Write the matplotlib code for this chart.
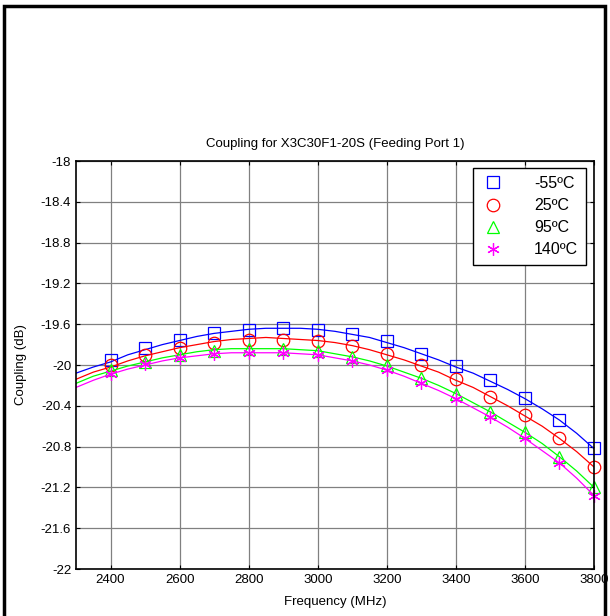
import matplotlib
matplotlib.use("Agg")
import matplotlib.pyplot as plt
import matplotlib.patches as mpatches
import numpy as np

plt.rcParams['font.family'] = ['Liberation Sans', 'DejaVu Sans']

# marker points (MHz / dB)
freq_pts = [2400, 2500, 2600, 2700, 2800, 2900, 3000, 3100, 3200, 3300, 3400, 3500, 3600, 3700, 3800]
m55_pts = [-19.95, -19.83, -19.75, -19.69, -19.66, -19.64, -19.66, -19.70, -19.76, -19.89, -20.01, -20.15, -20.32, -20.54, -20.81]
p25_pts = [-20.00, -19.90, -19.83, -19.78, -19.75, -19.75, -19.76, -19.81, -19.89, -20.00, -20.14, -20.31, -20.49, -20.72, -21.00]
p95_pts = [-20.05, -19.97, -19.90, -19.86, -19.84, -19.84, -19.86, -19.92, -20.00, -20.13, -20.28, -20.46, -20.66, -20.90, -21.20]
p140_pts = [-20.09, -19.99, -19.93, -19.89, -19.88, -19.88, -19.90, -19.96, -20.05, -20.18, -20.33, -20.51, -20.72, -20.96, -21.28]

# measured traces (MHz / dB)
freq_line = [2300, 2350, 2400, 2450, 2500, 2550, 2600, 2650, 2700, 2750, 2800, 2850, 2900, 2950, 3000,
             3050, 3100, 3150, 3200, 3250, 3300, 3350, 3400, 3450, 3500, 3550, 3600, 3650, 3700, 3750, 3800]
m55_line = [-20.08, -20.02, -19.97, -19.90, -19.85, -19.80, -19.76, -19.72, -19.69, -19.67, -19.65, -19.64, -19.64,
            -19.64, -19.65, -19.67, -19.70, -19.73, -19.78, -19.83, -19.89, -19.95, -20.02, -20.08, -20.16, -20.24,
            -20.33, -20.43, -20.54, -20.67, -20.82]
p25_line = [-20.14, -20.07, -20.02, -19.96, -19.91, -19.87, -19.83, -19.80, -19.77, -19.75, -19.74, -19.73, -19.74,
            -19.75, -19.76, -19.78, -19.81, -19.85, -19.90, -19.95, -20.01, -20.07, -20.15, -20.22, -20.31, -20.40,
            -20.50, -20.60, -20.72, -20.85, -21.00]
p95_line = [-20.18, -20.11, -20.06, -20.01, -19.97, -19.93, -19.90, -19.87, -19.85, -19.84, -19.84, -19.84, -19.84,
            -19.85, -19.86, -19.89, -19.92, -19.96, -20.01, -20.07, -20.13, -20.20, -20.28, -20.37, -20.46, -20.56,
            -20.66, -20.77, -20.90, -21.04, -21.20]
p140_line = [-20.22, -20.15, -20.09, -20.04, -20.00, -19.96, -19.93, -19.91, -19.89, -19.88, -19.88, -19.88, -19.88,
             -19.89, -19.90, -19.93, -19.96, -20.00, -20.05, -20.11, -20.18, -20.25, -20.33, -20.42, -20.51, -20.61,
             -20.72, -20.84, -20.96, -21.11, -21.28]

labels = ['-55ºC', '25ºC', '95ºC', '140ºC']
colors = ['#0000ff', '#ff0000', '#00ff00', '#ff00ff']
markers = ['s', 'o', '^', (6, 2, 0)]

fig = plt.figure(figsize=(6.1, 6.16), dpi=100)
ax = fig.add_axes([76 / 610, 1 - 569 / 616, 518 / 610, 408 / 616])

# outer frame like the source figure
fig.patches.append(mpatches.Rectangle((4 / 610, -0.05), 601 / 610, 1.05 - 6 / 616, transform=fig.transFigure,
                                      fill=False, edgecolor='black', linewidth=2.5))

lines_y = [m55_line, p25_line, p95_line, p140_line]
pts_y = [m55_pts, p25_pts, p95_pts, p140_pts]
handles = []
for i in range(4):
    ax.plot(freq_line, lines_y[i], color=colors[i], linewidth=0.9)
    h, = ax.plot(freq_pts, pts_y[i], linestyle='none', marker=markers[i], markersize=9,
                 markerfacecolor='none', markeredgecolor=colors[i], markeredgewidth=0.9,
                 label=labels[i], clip_on=False)
    handles.append(h)

ax.set_xlim(2300, 3800)
ax.set_ylim(-22, -18)
ax.set_xticks(np.arange(2400, 3801, 200))
ax.set_yticks(np.arange(-22, -17.9, 0.4))
ax.set_yticklabels(['-22', '-21.6', '-21.2', '-20.8', '-20.4', '-20', '-19.6', '-19.2', '-18.8', '-18.4', '-18'])
ax.grid(True, color='#808080', linewidth=0.9)
ax.tick_params(direction='in', top=True, right=True, length=3, labelsize=9.5, colors='black')
for s in ax.spines.values():
    s.set_linewidth(1.2)

ax.set_title('Coupling for X3C30F1-20S (Feeding Port 1)', fontsize=9.5, pad=10)
ax.set_xlabel('Frequency (MHz)', fontsize=9.5, labelpad=7)
ax.set_ylabel('Coupling (dB)', fontsize=9.5, labelpad=10)

leg = ax.legend(handles=handles, loc='upper right', bbox_to_anchor=(0.985, 0.983), fontsize=11.5,
                fancybox=False, framealpha=1, edgecolor='black', borderpad=0.5, labelspacing=0.45,
                handlelength=1.5, handletextpad=1.8, borderaxespad=0)
leg.get_frame().set_linewidth(1.0)

fig.savefig('out.png', dpi=100)
